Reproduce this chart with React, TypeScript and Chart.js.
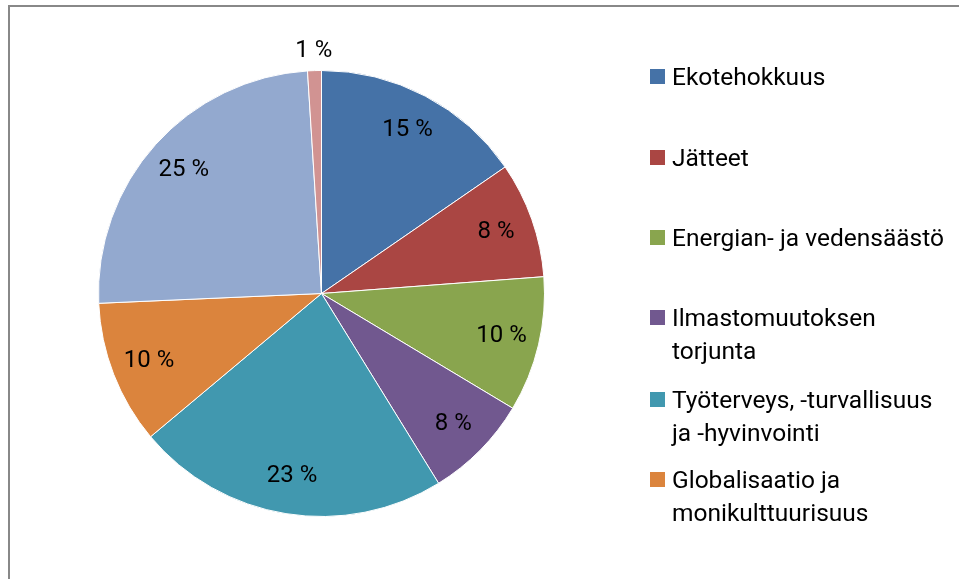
import React, { useEffect, useRef } from "react";
import { Chart, registerables } from "chart.js";

Chart.register(...registerables);

const categories = [
  "Ekotehokkuus",
  "Jätteet",
  "Energian- ja vedensäästö",
  "Ilmastomuutoksen torjunta",
  "Työterveys, -turvallisuus ja -hyvinvointi",
  "Globalisaatio ja monikulttuurisuus",
  "Muu",
  "Muu 2",
];
const values = [15.4, 8.4, 9.8, 7.6, 22.7, 10.4, 24.7, 1.0];
const percentLabels = ["15 %", "8 %", "10 %", "8 %", "23 %", "10 %", "25 %", "1 %"];
const colors = ["#4572A7", "#AA4643", "#89A54E", "#71588F", "#4198AF", "#DB843D", "#93A9CF", "#D19392"];
const legendLines = [
  ["Ekotehokkuus"],
  ["Jätteet"],
  ["Energian- ja vedensäästö"],
  ["Ilmastomuutoksen", "torjunta"],
  ["Työterveys, -turvallisuus", "ja -hyvinvointi"],
  ["Globalisaatio ja", "monikulttuurisuus"],
];
const outsideLabelIndex = 7;

const decorPlugin = {
  id: "decor",
  beforeDraw(chart: any) {
    const ctx = chart.ctx;
    ctx.save();
    ctx.fillStyle = "#ffffff";
    ctx.fillRect(0, 0, chart.width, chart.height);
    ctx.strokeStyle = "#888888";
    ctx.lineWidth = 2;
    ctx.beginPath();
    ctx.moveTo(9, chart.height + 5);
    ctx.lineTo(9, 6);
    ctx.lineTo(chart.width + 5, 6);
    ctx.stroke();
    ctx.restore();
  },
  afterDatasetsDraw(chart: any) {
    const ctx = chart.ctx;
    const meta = chart.getDatasetMeta(0);
    ctx.save();
    ctx.fillStyle = "#000000";
    ctx.font = "24px Roboto";
    ctx.textAlign = "center";
    ctx.textBaseline = "middle";
    meta.data.forEach((arc: any, i: number) => {
      const p = arc.getProps(["x", "y", "startAngle", "endAngle", "outerRadius"], true);
      const mid = (p.startAngle + p.endAngle) / 2;
      const d = i === outsideLabelIndex ? p.outerRadius + 20 : p.outerRadius * 0.83;
      const x = p.x + Math.cos(mid) * d;
      const y = p.y + Math.sin(mid) * d;
      ctx.fillText(percentLabels[i], x, y);
    });
    // legend
    ctx.textAlign = "left";
    ctx.textBaseline = "alphabetic";
    ctx.font = "24.5px Roboto";
    const boxX = 650;
    const boxTops = [69, 150, 230, 310, 392, 472];
    legendLines.forEach((lines, i) => {
      const top = boxTops[i];
      ctx.fillStyle = colors[i];
      ctx.fillRect(boxX, top, 15, 15);
      ctx.fillStyle = "#000000";
      lines.forEach((ln, j) => {
        ctx.fillText(ln, 672, top + 16 + j * 33);
      });
    });
    ctx.restore();
  },
};

export default function App() {
  const ref = useRef<HTMLCanvasElement | null>(null);
  useEffect(() => {
    if (!ref.current) return;
    const chart = new Chart(ref.current, {
      type: "pie",
      data: {
        labels: categories,
        datasets: [
          {
            data: values,
            backgroundColor: colors,
            borderColor: "#ffffff",
            borderWidth: 1,
          },
        ],
      },
      options: {
        animation: false,
        responsive: false,
        layout: { padding: { left: 98, right: 414, top: 70, bottom: 62 } },
        plugins: {
          legend: { display: false },
          tooltip: { enabled: false },
        },
      },
      plugins: [decorPlugin],
    });
    return () => chart.destroy();
  }, []);
  return (
    <div style={{ position: "fixed", left: 0, top: 0, width: 959, height: 579 }}>
      <canvas ref={ref} width={959} height={579} style={{ display: "block", width: 959, height: 579 }} />
    </div>
  );
}
